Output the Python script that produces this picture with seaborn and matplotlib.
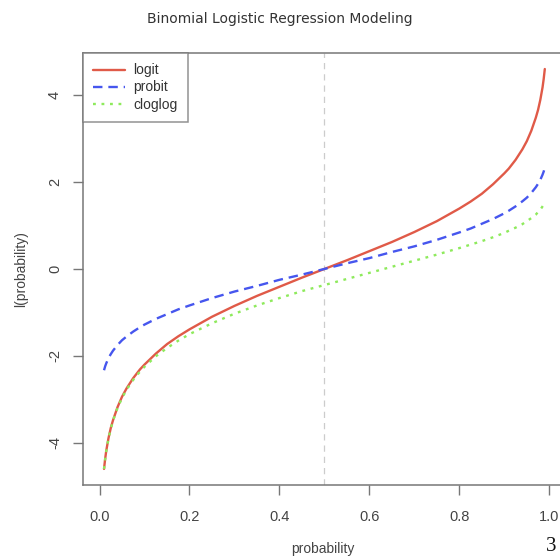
import pandas as pd
import matplotlib
matplotlib.use("Agg")
import matplotlib.pyplot as plt
import seaborn as sns

# values
probability = [0.01, 0.0125, 0.015, 0.02, 0.025, 0.03, 0.04, 0.05, 0.06, 0.075, 0.09, 0.1,
               0.125, 0.15, 0.175, 0.2, 0.25, 0.3, 0.35, 0.4, 0.45, 0.5, 0.55, 0.6, 0.65,
               0.7, 0.75, 0.8, 0.825, 0.85, 0.875, 0.9, 0.91, 0.925, 0.94, 0.95, 0.96,
               0.97, 0.975, 0.98, 0.985, 0.9875, 0.99]
logit = [-4.60, -4.37, -4.18, -3.89, -3.66, -3.48, -3.18, -2.94, -2.75, -2.51, -2.31, -2.20,
         -1.95, -1.73, -1.55, -1.39, -1.10, -0.85, -0.62, -0.41, -0.20, 0.00, 0.20, 0.41, 0.62,
         0.85, 1.10, 1.39, 1.55, 1.73, 1.95, 2.20, 2.31, 2.51, 2.75, 2.94, 3.18,
         3.48, 3.66, 3.89, 4.18, 4.37, 4.60]
probit = [-2.33, -2.24, -2.17, -2.05, -1.96, -1.88, -1.75, -1.64, -1.555, -1.44, -1.34, -1.28,
          -1.15, -1.04, -0.93, -0.84, -0.67, -0.52, -0.39, -0.25, -0.13, 0.00, 0.13, 0.25, 0.39,
          0.52, 0.67, 0.84, 0.93, 1.04, 1.15, 1.28, 1.34, 1.44, 1.555, 1.64, 1.75,
          1.88, 1.96, 2.05, 2.17, 2.24, 2.33]
cloglog = [-4.60, -4.38, -4.19, -3.90, -3.68, -3.49, -3.20, -2.97, -2.78, -2.55, -2.36, -2.25,
           -2.01, -1.82, -1.65, -1.50, -1.25, -1.03, -0.84, -0.67, -0.51, -0.37, -0.23, -0.09, 0.05,
           0.19, 0.33, 0.48, 0.56, 0.64, 0.73, 0.83, 0.88, 0.95, 1.03, 1.10, 1.17,
           1.25, 1.31, 1.36, 1.44, 1.48, 1.53]

series_names = ["logit", "probit", "cloglog"]
series_colors = ["#E05A48", "#4656EE", "#8EEA5C"]
series_dashes = [None, (4, 2.5), (1.2, 2.4)]

df = pd.DataFrame({"probability": probability, "logit": logit,
                   "probit": probit, "cloglog": cloglog})

sns.set_style("white")
plt.rcParams["font.family"] = ["Liberation Sans", "DejaVu Sans"]

fig = plt.figure(figsize=(5.6, 5.58), dpi=100)
ax = fig.add_axes([0.148, 0.131, 0.857, 0.774])

ax.axvline(0.5, color="#cccccc", lw=0.9, ls=(0, (5, 4)), zorder=1)

for name, col, dsh in zip(series_names, series_colors, series_dashes):
    sns.lineplot(data=df, x="probability", y=name, ax=ax, color=col, lw=1.7,
                 label=name, zorder=3)
    if dsh is not None:
        ax.lines[-1].set_dashes(dsh)

span_y = max(logit) - min(logit)
ax.set_xlim(-0.037, 1.03)
ax.set_ylim(min(logit) - 0.04 * span_y, max(logit) + 0.04 * span_y)

ax.set_xticks([0.0, 0.2, 0.4, 0.6, 0.8, 1.0])
ax.set_xticklabels(["0.0", "0.2", "0.4", "0.6", "0.8", "1.0"])
ax.set_yticks([-4, -2, 0, 2, 4])
ax.set_yticklabels(["-4", "-2", "0", "2", "4"], rotation=90, va="center")
ax.tick_params(axis="both", direction="out", length=7, width=1, color="#777777",
               labelcolor="#444444", labelsize=10.5)
ax.tick_params(axis="x", bottom=True, pad=11)
ax.tick_params(axis="y", left=True, pad=8)

for side in ["left", "bottom", "top"]:
    ax.spines[side].set_color("#777777")
    ax.spines[side].set_linewidth(1.1)
ax.spines["right"].set_visible(False)

ax.set_xlabel("probability", fontsize=10, color="#444444", labelpad=13)
ax.set_ylabel("l(probability)", fontsize=10, color="#444444", labelpad=14)

leg = ax.legend(loc="upper left", bbox_to_anchor=(0.0, 1.0), frameon=True,
                fancybox=False, borderaxespad=0, fontsize=10, handlelength=2.3,
                handletextpad=0.6, labelspacing=0.22, borderpad=0.75)
leg.get_frame().set_edgecolor("#777777")
leg.get_frame().set_linewidth(1.1)
for t in leg.get_texts():
    t.set_color("#333333")

fig.text(0.5, 0.966, "Binomial Logistic Regression Modeling", ha="center", va="center",
         fontsize=10, color="#333333", family="DejaVu Sans")
fig.text(0.985, 0.02, "3", ha="center", va="center", fontsize=15, color="#111111",
         family="Liberation Serif")

fig.savefig("out.png", dpi=100)
